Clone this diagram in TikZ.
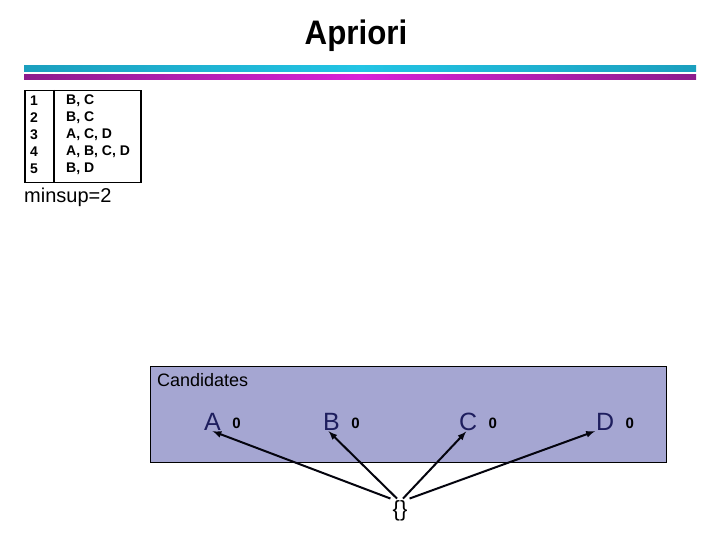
\documentclass[tikz,border=0pt]{standalone}
\usepackage{fontspec}
\setmainfont{Liberation Sans}
\usepackage{tikz}
\usetikzlibrary{arrows,positioning}
\definecolor{rulecyan}{HTML}{1B9FBE}
\definecolor{rulecyanmid}{HTML}{22C4E4}
\definecolor{rulepurple}{HTML}{8C1C8C}
\definecolor{rulepurplemid}{HTML}{D822D8}
\definecolor{candfill}{HTML}{A5A6D2}
\definecolor{itemnavy}{HTML}{1E1E5E}
\tikzset{
    title/.style={font=\fontsize{34}{40}\selectfont\bfseries, anchor=base, inner sep=0pt, xscale=0.92},
    tid/.style={font=\fontsize{14}{16}\selectfont\bfseries, anchor=west, inner sep=0pt},
    plain label/.style={font=\fontsize{18}{21}\selectfont, anchor=base west, inner sep=0pt},
    item/.style={font=\fontsize{25}{28}\selectfont, text=itemnavy, anchor=base west, inner sep=1pt},
    count/.style={font=\fontsize{15}{17}\selectfont\bfseries, inner sep=0pt},
    link/.style={->, draw=black!85!itemnavy, line width=2pt}
}
\begin{document}
\begin{tikzpicture}[x=1pt, y=-1pt, >=latex]
    \useasboundingbox (0,0) rectangle (720,540);
    \node[title] (ttl) at (356,45) {Apriori};
    \shade[left color=rulecyan, right color=rulecyan, middle color=rulecyanmid] (24,66) rectangle (696,72);
    \shade[left color=rulepurple, right color=rulepurple, middle color=rulepurplemid] (24,75) rectangle (696,80);
    \node[draw, line width=1.5pt, minimum width=116, minimum height=92, anchor=north west, inner sep=0pt] (tbl) at (24,90) {};
    \draw[line width=1.5pt] (54,90) -- (54,182);
    \foreach \i/\t in {1/{B, C},2/{B, C},3/{A, C, D},4/{A, B, C, D},5/{B, D}}{
        \node[tid] (id\i) at (30,{101+17*(\i-1)}) {\i};
        \node[tid] (set\i) at (66,{101+17*(\i-1)}) {\t};
    }
    \node[plain label, font=\fontsize{20}{24}\selectfont] (ms) at (24,203) {minsup=2};
    \node[draw, line width=1pt, fill=candfill, minimum width=516, minimum height=96, anchor=north west, inner sep=0pt] (cand) at (150,366) {};
    \node[plain label] (candlbl) at (157,386) {Candidates};
    \node[item] (a) at (203,430) {A};
    \node[item] (b) at (322,430) {B};
    \node[item] (c) at (458,430) {C};
    \node[item] (d) at (595,430) {D};
    \foreach \n in {a,b,c,d}
        \node[count, base right=10pt of \n.base east, yshift=2pt] (\n0) {0};
    \node[font=\fontsize{22}{26}\selectfont, inner sep=2pt] (es) at (400,511) {\{\}};
    \draw[link] (es.north west) -- (a.south);
    \draw[link] ([xshift=-3pt]es.north) -- ([xshift=-3pt]b.south);
    \draw[link] ([xshift=3pt]es.north) -- ([xshift=-2pt]c.south);
    \draw[link] (es.north east) -- (d.south west);
\end{tikzpicture}
\end{document}
